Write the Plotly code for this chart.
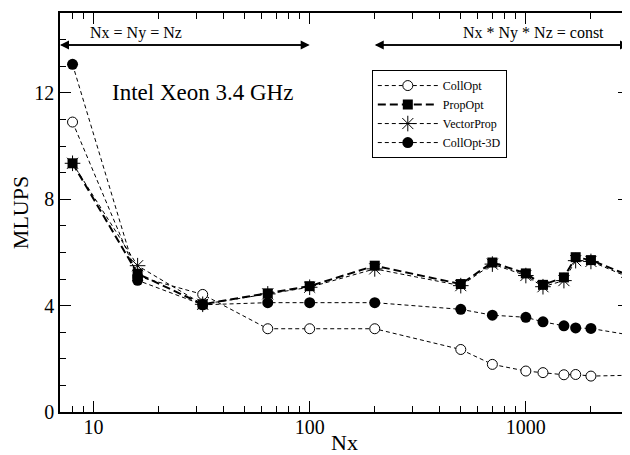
import math
import plotly.graph_objects as go

# ---- data ----
nx = [8, 16, 32, 64, 100, 200, 500, 700, 1000, 1200, 1500, 1700, 2000, 3000]
coll_opt = [10.9, 5.1, 4.42, 3.13, 3.13, 3.13, 2.35, 1.79, 1.54, 1.48, 1.40, 1.41, 1.35, 1.38]
prop_opt = [9.35, 5.2, 4.05, 4.46, 4.73, 5.50, 4.81, 5.62, 5.21, 4.78, 5.06, 5.82, 5.71, 5.13]
vector_prop = [9.35, 5.5, 4.05, 4.44, 4.69, 5.38, 4.75, 5.56, 5.13, 4.71, 4.94, 5.69, 5.66, 5.06]
coll_opt_3d = [13.07, 4.95, 4.03, 4.11, 4.11, 4.11, 3.86, 3.64, 3.56, 3.39, 3.24, 3.16, 3.14, 2.90]

x_tickvals = [10, 100, 1000]
x_ticktext = ["10", "100", "1000"]
y_tickvals = [0, 4, 8, 12]
y_ticktext = ["0", "4", "8", "12"]

FONT = "Liberation Serif"

fig = go.Figure()

fig.add_trace(go.Scatter(
    x=nx, y=coll_opt, name="CollOpt", mode="lines+markers", cliponaxis=False,
    line=dict(color="black", width=1, dash="4px,3px"),
    marker=dict(symbol="circle", size=10, color="white", line=dict(color="black", width=1)),
))
fig.add_trace(go.Scatter(
    x=nx, y=prop_opt, name="PropOpt", mode="lines+markers", cliponaxis=False,
    line=dict(color="black", width=2, dash="8px,4px"),
    marker=dict(symbol="square", size=10, color="black", line=dict(color="black", width=0)),
))
fig.add_trace(go.Scatter(
    x=nx, y=vector_prop, name="VectorProp", mode="lines+markers", cliponaxis=False,
    line=dict(color="black", width=1, dash="4px,3px"),
    marker=dict(symbol="asterisk-open", size=13, color="black", line=dict(color="black", width=1)),
))
fig.add_trace(go.Scatter(
    x=nx, y=coll_opt_3d, name="CollOpt-3D", mode="lines+markers", cliponaxis=False,
    line=dict(color="black", width=1, dash="4px,3px"),
    marker=dict(symbol="circle", size=11, color="black", line=dict(color="black", width=0)),
))
# invisible trace to carry the mirrored (top/right) tick axes
fig.add_trace(go.Scatter(
    x=nx, y=coll_opt, xaxis="x2", yaxis="y2", mode="markers",
    marker=dict(opacity=0), showlegend=False, hoverinfo="skip",
))

x_lo, x_hi = 7, 3000
y_lo, y_hi = 0, 15
arrow_y = 13.8

# double-headed arrows
for a, b in [(x_lo, 100), (200, x_hi)]:
    for tip, tail in [(b, a), (a, b)]:
        fig.add_annotation(
            x=math.log10(tip), y=arrow_y, ax=math.log10(tail), ay=arrow_y,
            xref="x", yref="y", axref="x", ayref="y",
            text="", showarrow=True, arrowhead=2, arrowsize=1.2, arrowwidth=1.5,
            arrowcolor="black",
        )

fig.add_annotation(x=0.050, y=0.9496, xref="paper", yref="paper", xanchor="left", yanchor="middle",
                   text="Nx = Ny = Nz", showarrow=False, font=dict(family=FONT, size=16, color="black"))
fig.add_annotation(x=0.833, y=0.9496, xref="paper", yref="paper", xanchor="center", yanchor="middle",
                   text="Nx * Ny * Nz = const", showarrow=False, font=dict(family=FONT, size=16, color="black"))
fig.add_annotation(x=0.087, y=0.801, xref="paper", yref="paper", xanchor="left", yanchor="middle",
                   text="Intel Xeon 3.4 GHz", showarrow=False, font=dict(family=FONT, size=23, color="black"))

xminor = dict(ticks="inside", ticklen=6, tickwidth=1, tickcolor="black", dtick="D1", showgrid=False)
yminor = dict(ticks="inside", ticklen=6, tickwidth=1, tickcolor="black", dtick=1, showgrid=False)

fig.update_layout(
    xaxis=dict(
        type="log", range=[math.log10(x_lo), math.log10(x_hi)],
        tickvals=x_tickvals, ticktext=x_ticktext,
        ticks="inside", ticklen=11, tickwidth=1.2, tickcolor="black",
        minor=xminor, ticklabelstandoff=-4,
        showline=True, linecolor="black", linewidth=1.5, mirror=True,
        showgrid=False, zeroline=False, automargin=False,
        tickfont=dict(family=FONT, size=20, color="black"),
        title=dict(text="Nx", font=dict(family=FONT, size=22, color="black"), standoff=12),
    ),
    yaxis=dict(
        range=[y_lo, y_hi], tickvals=y_tickvals, ticktext=y_ticktext,
        ticks="inside", ticklen=11, tickwidth=1.2, tickcolor="black",
        minor=yminor,
        showline=True, linecolor="black", linewidth=1.5, mirror=True,
        showgrid=False, zeroline=False, automargin=False,
        tickfont=dict(family=FONT, size=20, color="black"),
        title=dict(text="MLUPS", font=dict(family=FONT, size=22, color="black"), standoff=11),
    ),
    xaxis2=dict(
        type="log", range=[math.log10(x_lo), math.log10(x_hi)], overlaying="x", side="top", anchor="y",
        tickvals=x_tickvals, showticklabels=False,
        ticks="inside", ticklen=11, tickwidth=1.2, tickcolor="black",
        minor=xminor, showgrid=False, zeroline=False, showline=False, automargin=False,
    ),
    yaxis2=dict(
        range=[y_lo, y_hi], overlaying="y", side="right", anchor="x",
        tickvals=y_tickvals, showticklabels=False,
        ticks="inside", ticklen=11, tickwidth=1.2, tickcolor="black",
        minor=yminor, showgrid=False, zeroline=False, showline=False, automargin=False,
    ),
    # page body has an 8px margin, so the figure is sized to fill the rest of the window
    width=622, height=447,
    margin=dict(l=52, r=1, t=5, b=43),
    paper_bgcolor="white", plot_bgcolor="white",
    showlegend=True,
    legend=dict(
        x=0.548, y=0.857, xanchor="left", yanchor="top",
        bordercolor="black", borderwidth=1, bgcolor="white",
        font=dict(family=FONT, size=12, color="black"),
        itemwidth=60, tracegroupgap=0,
    ),
    font=dict(family=FONT, color="black"),
)

fig.write_html("out.html")
